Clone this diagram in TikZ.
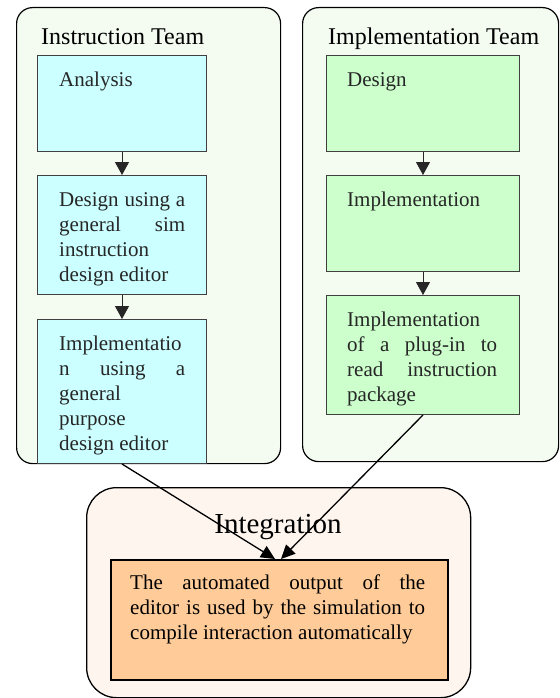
\documentclass[tikz,border=0pt]{standalone}
\usepackage{fontspec}
\setmainfont{Liberation Serif}
\usetikzlibrary{arrows.meta}
\definecolor{teamfill}{HTML}{F4FCF2}
\definecolor{cyanbox}{HTML}{CCFFFF}
\definecolor{greenbox}{HTML}{CCFFCC}
\definecolor{intfill}{HTML}{FEF5EE}
\definecolor{orangebox}{HTML}{FFCC99}
\begin{document}
\begin{tikzpicture}[x=1pt,y=-1pt,
  team/.style={draw=black, line width=1.2pt, fill=teamfill, rounded corners=16pt, anchor=north west, inner sep=0},
  stepbox/.style={draw=black!75, line width=1pt, anchor=north west, inner sep=0},
  body/.style={anchor=north west, inner sep=0, align=justify, font=\fontsize{21}{25}\selectfont, text=black!85},
  title/.style={anchor=base west, inner sep=0, font=\fontsize{24}{28}\selectfont},
  link/.style={draw=black!85, line width=1pt, -{Triangle[width=14pt,length=13pt]}},
  merge/.style={draw=black, line width=1.3pt, -{Triangle[width=13pt,length=14pt]}}]
\useasboundingbox (0,0) rectangle (559,698);

% team containers
\node[team, minimum width=264pt, minimum height=456pt] (instr) at (16,7) {};
\node[team, minimum width=256pt, minimum height=454pt] (impl) at (302,7) {};
\node[title] (instrT) at (41,45) {Instruction Team};
\node[title] (implT) at (328,45) {Implementation Team};

% instruction team steps
\node[stepbox, fill=cyanbox, minimum width=169pt, minimum height=96pt] (an) at (37,55) {};
\node[stepbox, fill=cyanbox, minimum width=169pt, minimum height=119pt] (di) at (37,175) {};
\node[stepbox, fill=cyanbox, minimum width=169pt, minimum height=144pt] (li) at (37,319) {};
\node[body, text width=126pt] (anT) at ([shift={(22,13.5)}]an.north west) {\strut Analysis};
\node[body, text width=126pt] (diT) at ([shift={(22,13.5)}]di.north west) {\strut Design using a\linebreak general sim\linebreak instruction\\ design editor};
\node[body, text width=126pt] (liT) at ([shift={(22,13.5)}]li.north west) {\strut Implementatio\\ n using a\linebreak general\\ purpose\\ design editor};

% implementation team steps
\node[stepbox, fill=greenbox, minimum width=193pt, minimum height=96pt] (de) at (326,55) {};
\node[stepbox, fill=greenbox, minimum width=193pt, minimum height=96pt] (im) at (326,175) {};
\node[stepbox, fill=greenbox, minimum width=193pt, minimum height=119pt] (pl) at (326,295) {};
\node[body, text width=150pt] (deT) at ([shift={(21,13.5)}]de.north west) {\strut Design};
\node[body, text width=150pt] (imT) at ([shift={(21,13.5)}]im.north west) {\strut Implementation};
\node[body, text width=150pt] (plT) at ([shift={(21,13.5)}]pl.north west) {\strut Implementation\\ of a plug-in to\linebreak read instruction\linebreak package};

% integration
\node[draw=black, line width=1.3pt, fill=intfill, rounded corners=30pt, anchor=north west, inner sep=0, minimum width=384pt, minimum height=210pt] (integ) at (86,487) {};
\node[anchor=base, inner sep=0, font=\fontsize{29}{34}\selectfont] (integT) at (278,533) {Integration};
\node[draw=black, line width=1.6pt, fill=orangebox, anchor=north west, inner sep=0, minimum width=337pt, minimum height=120pt] (out) at (110,559) {};
\node[body, text width=295pt, text=black] (outT) at ([shift={(20,12.5)}]out.north west) {\strut The automated output of the\linebreak editor is used by the simulation to\linebreak compile interaction automatically};

% connectors
\draw[link] (an.south) -- (di.north);
\draw[link] (di.south) -- (li.north);
\draw[link] (de.south) -- (im.north);
\draw[link] (im.south) -- (pl.north);
\coordinate (tipL) at (275,559);
\coordinate (tipR) at (281,559);
\draw[merge] (li.south) -- (tipL);
\draw[merge] (pl.south) -- (tipR);
\end{tikzpicture}
\end{document}
